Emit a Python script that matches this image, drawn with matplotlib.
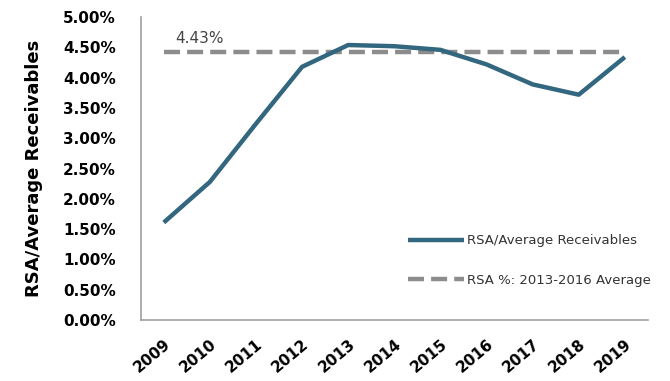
import matplotlib.pyplot as plt
from matplotlib.ticker import FuncFormatter

years = [2009, 2010, 2011, 2012, 2013, 2014, 2015, 2016, 2017, 2018, 2019]
rsa_ratio = [1.61, 2.28, 3.24, 4.18, 4.54, 4.52, 4.46, 4.22, 3.89, 3.72, 4.34]
avg_2013_2016 = 4.43

line_color = '#33677f'
dash_color = '#8c8c8c'

fig = plt.figure(figsize=(6.7, 3.81), dpi=100)
ax = fig.add_axes([0.21, 0.16, 0.757, 0.795])

ax.plot(years, rsa_ratio, color=line_color, lw=3.2, solid_capstyle='butt',
        label='RSA/Average Receivables', zorder=3)
ax.plot([years[0], years[-1]], [avg_2013_2016] * 2, color=dash_color, lw=3.2,
        dashes=(3.6, 1.6), label='RSA %: 2013-2016 Average', zorder=2)
ax.text(years[0] + 0.25, avg_2013_2016 + 0.1, f'{avg_2013_2016:.2f}%',
        fontsize=11, color='#444444', va='bottom')

ax.set_xlim(2008.5, 2019.5)
ax.set_ylim(0, 5)
ax.set_yticks([i * 0.5 for i in range(11)])
ax.yaxis.set_major_formatter(FuncFormatter(lambda v, p: f'{v:.2f}%'))
ax.set_xticks(years)
ax.set_xticklabels([str(y) for y in years], rotation=40, ha='right',
                   rotation_mode='anchor')
for lbl in ax.get_xticklabels() + ax.get_yticklabels():
    lbl.set_fontweight('bold')
    lbl.set_fontsize(11)
ax.tick_params(length=0)
ax.tick_params(axis='y', pad=18)
ax.tick_params(axis='x', pad=12)

ax.set_ylabel('RSA/Average Receivables', fontsize=13, fontweight='bold',
              labelpad=14)

for s in ['top', 'right']:
    ax.spines[s].set_visible(False)
for s in ['left', 'bottom']:
    ax.spines[s].set_color('#a0a0a0')
    ax.spines[s].set_linewidth(1.2)

ax.legend(loc='lower right', frameon=False, fontsize=9.5, handlelength=4.2,
          labelspacing=2.0, handletextpad=0.3, borderaxespad=0.3,
          bbox_to_anchor=(1.025, 0.08), labelcolor='#333333')

plt.savefig('out.png', dpi=100)
